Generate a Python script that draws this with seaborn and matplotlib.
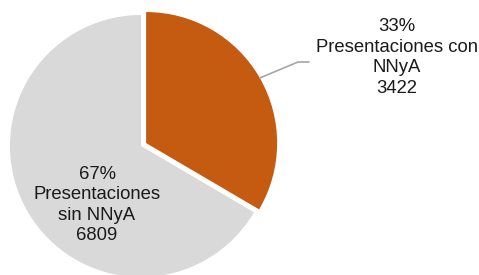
import numpy as np
import matplotlib.pyplot as plt
import seaborn as sns

labels = ["Presentaciones con\nNNyA", "Presentaciones\nsin NNyA"]
values = [3422, 6809]
colors = ["#C55A11", "#D9D9D9"]
explode = [0.045, 0]

sns.set_style("white")
plt.rcParams["font.family"] = ["Liberation Sans", "DejaVu Sans"]

fig = plt.figure(figsize=(4.79, 2.75), dpi=100)
ax = fig.add_axes([0, 0, 1, 1])

wedges, _ = ax.pie(values, colors=colors, explode=explode, startangle=90,
                   counterclock=False, radius=1,
                   wedgeprops=dict(linewidth=0))

# pixel scale: radius = 131 px, centre of pie at (141, 146) from top-left
r_px = 131
ax.set_xlim(-141 / r_px, (479 - 141) / r_px)
ax.set_ylim(-(275 - 146) / r_px, 146 / r_px)
ax.set_aspect("equal")
ax.axis("off")

total = sum(values)
texts = [f"{round(v / total * 100)}%\n{l}\n{v}" for v, l in zip(values, labels)]

# orange slice: label outside with leader line
w = wedges[0]
ang = np.deg2rad((w.theta1 + w.theta2) / 2)
cx, cy = w.center
px, py = cx + np.cos(ang) * w.r, cy + np.sin(ang) * w.r
kx, ky = 298 / r_px - 141 / r_px, (146 - 62) / r_px
ex = 309 / r_px - 141 / r_px
ax.plot([px, kx, ex], [py, ky, ky], color="#A6A6A6", lw=1.2)
ax.text(397 / r_px - 141 / r_px, (146 - 57.5) / r_px, texts[0], ha="center", va="center",
        fontsize=13.3, linespacing=1.26, color="#1a1a1a")

# grey slice: label inside
ax.text(97 / r_px - 141 / r_px, (146 - 205) / r_px, texts[1], ha="center", va="center",
        fontsize=13.3, linespacing=1.26, color="#1a1a1a")

fig.savefig("out.png", dpi=100)
